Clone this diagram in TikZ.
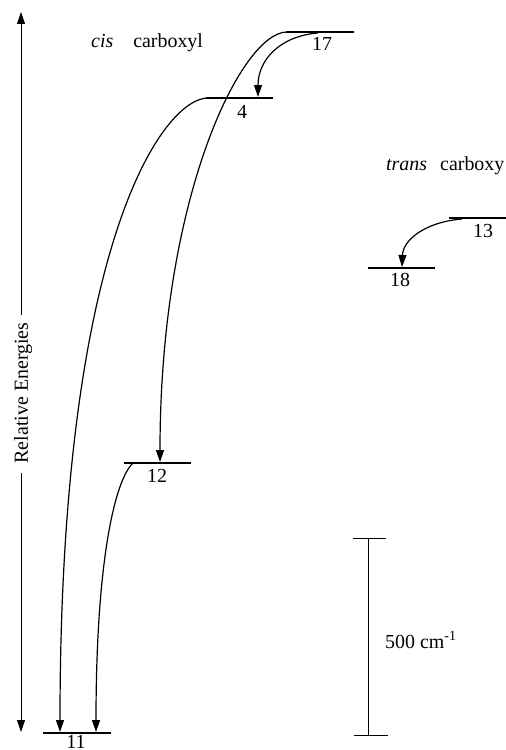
\documentclass[tikz,border=0pt]{standalone}
\usepackage{fontspec}
\setmainfont{Liberation Serif}
\usetikzlibrary{arrows.meta}
\begin{document}
\begin{tikzpicture}[x=1bp,y=-1bp,
  lev/.style={line width=2.2bp},
  conn/.style={line width=1.2bp,-{Triangle[length=12bp,width=8bp]}},
  axisline/.style={line width=1bp},
  num/.style={font=\fontsize{20}{20}\selectfont, inner sep=0pt, anchor=north},
  lbl/.style={font=\fontsize{20}{20}\selectfont, inner sep=0pt, anchor=base west}]
\useasboundingbox (0,0) rectangle (506,750);

% energy axis
\node[font=\fontsize{20}{20}\selectfont, inner sep=0pt, rotate=90] (ax) at (23,393) {Relative Energies};
\coordinate (axA) at (21,315);
\coordinate (axTop) at (21,12);
\coordinate (axB) at (21,473);
\coordinate (axBot) at (21,732);
\draw[axisline,-{Triangle[length=12bp,width=8bp]}] (axA) -- (axTop);
\draw[axisline,-{Triangle[length=12bp,width=8bp]}] (axB) -- (axBot);

% headings
\node[lbl] (cis) at (91,48) {\textit{cis}\quad carboxyl};
\node[lbl] (trans) at (386,170) {\textit{trans}\hspace{13bp}carboxy};

% levels
\coordinate (l17a) at (286,32);  \coordinate (l17b) at (354,32);
\coordinate (l4a) at (206,98);   \coordinate (l4b) at (273,98);
\coordinate (l13a) at (449,218); \coordinate (l13b) at (506,218);
\coordinate (l18a) at (368,268); \coordinate (l18b) at (435,268);
\coordinate (l12a) at (124,463); \coordinate (l12b) at (191,463);
\coordinate (l11a) at (43,733);  \coordinate (l11b) at (111,733);
\draw[lev] (l17a) -- (l17b);
\draw[lev] (l4a) -- (l4b);
\draw[lev] (l13a) -- (l13b);
\draw[lev] (l18a) -- (l18b);
\draw[lev] (l12a) -- (l12b);
\draw[lev] (l11a) -- (l11b);

\node[num] (n17) at (322,37) {17};
\node[num] (n4) at (242,105) {4};
\node[num] (n13) at (483,224) {13};
\node[num] (n18) at (400,273) {18};
\node[num] (n12) at (157,469) {12};
\node[num] (n11) at (76,735) {11};

% connector end points
\coordinate (s17L) at (287,32);
\coordinate (s17R) at (318,33);
\coordinate (s4) at (208,98);
\coordinate (s12) at (133,463);
\coordinate (s13) at (462,219);
\coordinate (e12) at (160,462);
\coordinate (e4) at (258,97);
\coordinate (e11a) at (60,732);
\coordinate (e11b) at (96,732);
\coordinate (e18) at (402,267);

\draw[conn] (s17L) .. controls (242,32) and (160,195) .. (e12);
\draw[conn] (s4) .. controls (165,98) and (60,235) .. (e11a);
\draw[conn] (s12) .. controls (115,480) and (96,560) .. (e11b);
\draw[conn] (s17R) .. controls (280,36) and (258,60) .. (e4);
\draw[conn] (s13) .. controls (425,222) and (403,240) .. (e18);

% scale bar
\coordinate (sbT) at (368,538);
\coordinate (sbB) at (368,735);
\coordinate (sbTl) at (353,538); \coordinate (sbTr) at (386,538);
\coordinate (sbBl) at (354,735); \coordinate (sbBr) at (388,735);
\draw[axisline] (sbT) -- (sbB);
\draw[axisline] (sbTl) -- (sbTr);
\draw[axisline] (sbBl) -- (sbBr);
\node[font=\fontsize{20}{20}\selectfont, inner sep=0pt, anchor=west] (sblabel) at (385,640) {500 cm\textsuperscript{-1}};
\end{tikzpicture}
\end{document}
